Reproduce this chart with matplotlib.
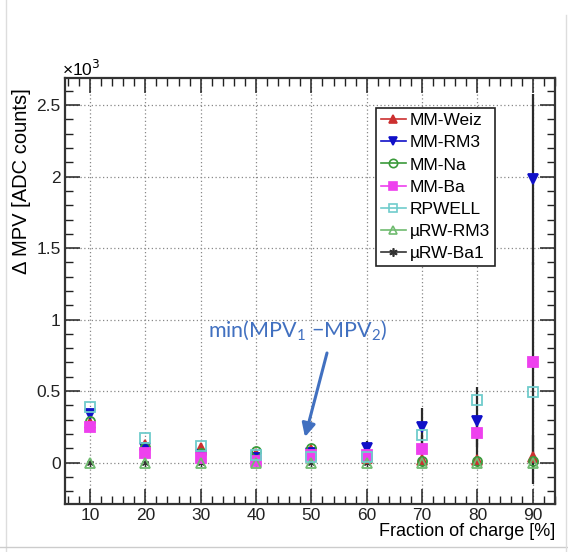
import matplotlib
matplotlib.use("Agg")
import matplotlib.pyplot as plt
from matplotlib.lines import Line2D
from matplotlib.ticker import MultipleLocator, FuncFormatter

plt.rcParams['font.family'] = ['Liberation Sans', 'DejaVu Sans']
plt.rcParams['mathtext.fontset'] = 'custom'
plt.rcParams['mathtext.rm'] = 'Lato'

# ---------------- data ----------------
fraction = [10, 20, 30, 40, 50, 60, 70, 80, 90]
mm_weiz = [280, 120, 100, 60, 90, 30, 20, 20, 40]
mm_rm3 = [340, 100, 50, 30, 70, 100, 250, 290, 1980]
mm_rm3_err = [30, 20, 20, 20, 20, 50, 130, 240, 600]
mm_na = [290, 110, 70, 80, 100, 40, 10, 10, 10]
mm_ba = [250, 70, 35, 10, 50, 55, 95, 210, 700]
mm_ba_err = [20, 20, 20, 20, 20, 20, 100, 100, 700]
rpwell = [390, 175, 117, 50, 40, 40, 190, 440, 490]
urw_rm3 = [0, 0, 0, 0, 0, 0, 0, 0, 0]
urw_ba1 = [0, 0, 0, 0, 0, 0, 0, 0, 20]
urw_ba1_err = [10, 10, 10, 10, 10, 10, 10, 10, 170]

series_names = ["MM-Weiz", "MM-RM3", "MM-Na", "MM-Ba", "RPWELL", "\u00b5RW-RM3", "\u00b5RW-Ba1"]
series_vals = [mm_weiz, mm_rm3, mm_na, mm_ba, rpwell, urw_rm3, urw_ba1]
x_ticks = [10, 20, 30, 40, 50, 60, 70, 80, 90]
y_ticks = [0, 500, 1000, 1500, 2000, 2500]

# ---------------- style ----------------
colors = ['#cc3030', '#1010c8', '#3a9a3a', '#ee40ee', '#70cccc', '#70bb70', '#333333']
markers = ['^', 'v', 'o', 's', 's', '^', (6, 2, 0)]
filled = [True, True, False, True, False, False, True]
zorders = [4, 4, 4, 4, 5, 4, 3]

fig = plt.figure(figsize=(5.68, 5.52), dpi=100)
W, H = 568, 552
ax = fig.add_axes([65 / W, 1 - 504 / H, 490 / W, 426 / H])

ax.set_xlim(5.5, 94)
ax.set_ylim(-290, 2690)

# error bars
for vals, errs in [(mm_rm3, mm_rm3_err), (mm_ba, mm_ba_err), (urw_ba1, urw_ba1_err)]:
    ax.errorbar(fraction, vals, yerr=errs, fmt='none', ecolor='#2a2a2a',
                elinewidth=1.6, capsize=0, zorder=2)

for name, vals, c, m, f, z in zip(series_names, series_vals, colors, markers, filled, zorders):
    ax.plot(fraction, vals, ls='none', marker=m, markersize=(5 if name.endswith('Ba1') else 6.5),
            markerfacecolor=(c if f else 'none'), markeredgecolor=c,
            markeredgewidth=(0.9 if name.endswith('Ba1') else 1.3), zorder=z)

# ticks / grid
ax.set_xticks(x_ticks)
ax.set_yticks(y_ticks)
ax.xaxis.set_minor_locator(MultipleLocator(2))
ax.yaxis.set_minor_locator(MultipleLocator(100))
ax.yaxis.set_major_formatter(FuncFormatter(lambda v, p: f"{v/1000:g}"))
ax.tick_params(which='both', direction='in', top=True, right=True, colors='#222222')
ax.tick_params(which='major', length=11, width=1.1, labelsize=12.5, pad=3)
ax.tick_params(which='minor', length=6, width=1.0)
ax.grid(True, which='major', ls=(0, (1, 2)), color='#888888', lw=0.9)
for s in ax.spines.values():
    s.set_linewidth(1.6)
    s.set_color('#333333')

fig.text(62 / W, 1 - 69 / H, "\u00d710$^{3}$", fontsize=12.5, ha='left', va='center',
         family=['Liberation Sans', 'DejaVu Sans'], math_fontfamily='dejavusans')
fig.text(22 / W, 1 - 88 / H, "\u0394 MPV [ADC counts]", rotation=90, fontsize=14.5,
         ha='center', va='top')
fig.text(555 / W, 1 - 532 / H, "Fraction of charge [%]", fontsize=13,
         ha='right', va='center')

# legend
handles = [Line2D([], [], color=c, lw=1.2, marker=m, markersize=6,
                  markerfacecolor=(c if f else 'none'), markeredgecolor=c,
                  markeredgewidth=1.2)
           for c, m, f in zip(colors, markers, filled)]
leg = fig.legend(handles, series_names, loc='upper left',
                 bbox_to_anchor=(376 / W, 1 - 108 / H), fontsize=12.5,
                 frameon=True, fancybox=False, edgecolor='#222222',
                 framealpha=1, handlelength=1.4, handletextpad=0.25,
                 labelspacing=0.4, borderpad=0.3, borderaxespad=0)
leg.get_frame().set_linewidth(1.2)

# annotation
blue = '#4170c0'
fig.text(208 / W, 1 - 331 / H, "min(MPV$_\\mathregular{1}$ \u2212MPV$_\\mathregular{2}$)",
         fontsize=15.5, color=blue, ha='left', va='center', family='Lato')
ax.annotate("", xy=(305 / W, 1 - 437 / H), xycoords='figure fraction',
            xytext=(327 / W, 1 - 353 / H), textcoords='figure fraction',
            arrowprops=dict(arrowstyle='-|>', color=blue, lw=2.2, mutation_scale=20,
                            shrinkA=0, shrinkB=0))

# screenshot border lines
fig.add_artist(Line2D([6 / W, 6 / W], [0, 1], color='#dddddd', lw=1))
fig.add_artist(Line2D([0, 1], [1 - 547 / H, 1 - 547 / H], color='#cccccc', lw=1))
fig.add_artist(Line2D([566 / W, 566 / W], [0, 1 - 15 / H], color='#dddddd', lw=1))

fig.savefig("out.png", dpi=100)
